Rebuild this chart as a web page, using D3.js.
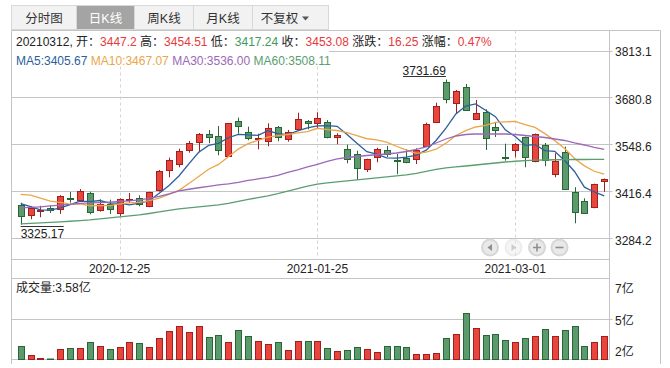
<!DOCTYPE html>
<html><head><meta charset="utf-8">
<script src="https://cdn.jsdelivr.net/npm/d3@7"></script>
<style>
html,body{margin:0;padding:0;background:#fff;}
svg{display:block;font-family:"Liberation Sans","Noto Sans CJK SC",sans-serif;font-size:12px;}
</style></head><body><svg id="c" width="670" height="368"></svg>
<script>
const dates = ["2020-12-11","2020-12-14","2020-12-15","2020-12-16","2020-12-17","2020-12-18","2020-12-21","2020-12-22","2020-12-23","2020-12-24",
"2020-12-25","2020-12-28","2020-12-29","2020-12-30","2020-12-31","2021-01-04","2021-01-05","2021-01-06","2021-01-07","2021-01-08",
"2021-01-11","2021-01-12","2021-01-13","2021-01-14","2021-01-15","2021-01-18","2021-01-19","2021-01-20","2021-01-21","2021-01-22",
"2021-01-25","2021-01-26","2021-01-27","2021-01-28","2021-01-29","2021-02-01","2021-02-02","2021-02-03","2021-02-04","2021-02-05",
"2021-02-08","2021-02-09","2021-02-10","2021-02-18","2021-02-19","2021-02-22","2021-02-23","2021-02-24","2021-02-25","2021-02-26",
"2021-03-01","2021-03-02","2021-03-03","2021-03-04","2021-03-05","2021-03-08","2021-03-09","2021-03-10","2021-03-11","2021-03-12"];
const openV = [3381.2,3351.5,3364,3372,3370,3400,3395.2,3413.1,3365.5,3383.2,3357.1,3396,3400.8,3376.7,3421.5,3477.6,3494.4,3533.6,3556,3578.4,
3572.8,3518.5,3614.8,3585.7,3565,3558.8,3597.4,3566,3593.2,3616.5,3609.2,3612,3570.8,3536.4,3522.4,3480.4,3514.8,3533.6,3507.5,3512,
3508.4,3545.6,3613.7,3724.9,3665.2,3710,3620.4,3640,3598,3515.5,3533.6,3570,3502.8,3547.6,3466.4,3528,3415.9,3390.7,3373.9,3447.2];
const highV = [3386.8,3377.6,3378,3378,3408,3416.8,3425,3417.6,3396.3,3395.2,3399,3414,3407.5,3417.6,3478.4,3512.9,3538,3559.6,3582,3590.4,
3601.6,3610,3624.9,3599.7,3580.1,3609.2,3601.6,3590.4,3638.9,3618.5,3640,3618,3581.2,3549.3,3532.4,3510,3540.8,3545.6,3523.2,3536.4,
3539.2,3610.9,3666.9,3731.69,3702.5,3719.3,3674.5,3648.4,3610.9,3552,3554,3572,3580.6,3554,3525.2,3543.6,3430,3399.1,3440,3454.51];
const lowV = [3325.17,3340.3,3346,3358,3355.2,3386.8,3392,3354.3,3361.6,3355.2,3349.6,3386,3376.7,3374,3418,3457.9,3485.9,3526.9,3528,3553.2,
3519.6,3517.6,3580.1,3561.6,3536.4,3544.8,3558.8,3557.7,3593,3592.4,3595.2,3567,3550.4,3497.2,3450.4,3472.8,3500,3514.8,3466.4,3497.2,
3495.2,3544,3612,3665.2,3637,3643.6,3618,3534.4,3570.8,3504.4,3514,3486,3500,3488.8,3458,3422.4,3329.1,3357,3371.1,3417.24];
const closeV = [3348.7,3372.8,3367,3367,3405,3396,3420.6,3359.9,3382.3,3368.3,3396.6,3397.3,3383.2,3415.4,3474.2,3505,3530.2,3552.6,3577.8,3571.6,
3533,3608.6,3600.2,3568.9,3566.6,3596.9,3570,3584,3622.6,3609.2,3625.4,3571.6,3575,3508.4,3484.8,3508.4,3536.4,3522.4,3506,3500,
3534.4,3607.2,3657.6,3678.1,3699.7,3645.6,3637.2,3567.2,3589.6,3514,3552,3514,3578.4,3505.6,3502.8,3424.3,3359.9,3358.8,3438.3,3453.08];
const volumeV = [2.96,2.35,2.18,2.12,2.72,2.78,2.78,3.21,2.96,2.72,2.90,3.15,3.09,2.90,3.40,3.83,4.14,3.77,4.14,3.46,
3.64,3.21,3.95,3.52,3.27,3.03,3.21,2.66,3.27,3.27,3.27,2.78,2.61,2.66,2.90,2.72,2.59,2.96,2.96,2.90,
2.47,2.47,2.53,3.40,3.66,5.00,4.07,3.64,3.70,3.33,3.15,3.40,3.52,4.01,3.58,3.95,4.14,2.96,3.21,3.58];
const ma5 = [3384,3375.4,3366.8,3365.8,3372.1,3381.6,3391.1,3389.7,3392.8,3385.4,3385.5,3380.9,3385.5,3392.2,3413.3,3435.0,3461.6,3495.5,3528.0,3547.4,
3553.0,3568.7,3578.2,3576.5,3575.5,3588.2,3580.5,3577.3,3588.0,3596.5,3602.2,3602.6,3600.8,3577.9,3553.0,3529.6,3522.6,3512.1,3511.6,3514.6,
3519.8,3534.0,3561.0,3595.5,3635.4,3657.6,3663.6,3645.6,3627.9,3590.7,3572.0,3547.4,3549.6,3532.8,3530.6,3505.0,3474.2,3430.3,3416.8,3405.67];
const ma10 = [3410.1,3408.2,3399.7,3391.4,3387.7,3382.9,3383.3,3378.2,3379.3,3378.8,3383.6,3386.0,3387.6,3392.5,3399.4,3410.3,3421.2,3440.5,3460.1,3480.4,
3494.0,3515.2,3536.9,3552.2,3561.5,3570.6,3574.6,3577.8,3582.2,3586.0,3595.2,3591.5,3589.0,3583.0,3574.8,3565.9,3562.6,3556.4,3544.8,3533.8,
3524.7,3528.3,3536.6,3553.5,3575.0,3588.7,3598.8,3603.3,3611.7,3613.1,3614.8,3605.5,3597.6,3580.3,3560.6,3538.5,3510.8,3489.9,3474.8,3467.07];
const ma30 = [3372,3373.4,3375.3,3377.6,3379.8,3381.8,3384.6,3386,3386.8,3388.2,3390.2,3391.6,3394.9,3398.6,3404.2,3411.2,3419.6,3424.4,3428.6,3432.2,
3436.4,3439.2,3443.4,3449,3453.2,3457.4,3463,3471.4,3478.4,3486.8,3494.4,3502.2,3509.2,3513.4,3516.2,3519,3521,3523.2,3526,3530.2,
3535.8,3542.8,3554,3565.2,3573.6,3577.8,3579.2,3579.2,3579.2,3579.2,3577.8,3575,3572.2,3569.4,3565.2,3561,3554,3548.4,3541.4,3536.0];
const ma60 = [3327.2,3328.6,3330,3331.4,3332.8,3334.7,3336.4,3338.4,3341.2,3344,3346.8,3349.6,3352.4,3356.5,3360.8,3365,3369.2,3372,3374.8,3377.6,
3380.4,3384.6,3390.2,3395.8,3401,3406,3412,3419,3426,3433,3438.5,3442,3444.8,3447.6,3450.4,3453.2,3456,3458.8,3461.6,3464.4,
3468.6,3474.2,3479.8,3484,3486.8,3489.6,3492.4,3495.2,3498,3500.8,3502.8,3504.4,3505.8,3506.4,3507,3507.5,3507.8,3507.8,3508,3508.11];
const priceTicks = [3813.1, 3680.8, 3548.6, 3416.4, 3284.2];
const volTickLabels = ["7亿", "5亿", "2亿"];
const dateTicks = ["2020-12-25", "2021-01-25", "2021-03-01"];
const tabs = ["分时图", "日K线", "周K线", "月K线", "不复权"];

const RED = "#e8463c", RED_S = "#a11f1f", GRN = "#5b9a6d", GRN_S = "#2a6535";
const TXT_RED = "#e8393a", TXT_GRN = "#3d9a5c";
const maColors = ["#2b5f9c", "#eaa64a", "#9c68b8", "#5a9e70"];

const svg = d3.select("#c");
const xL = 11.5, xR = 609.5, xO = 660.5, yTop = 30.5;
const pBot = 259.5, vTop = 278.5, vBot = 359.5;
const x = d3.scalePoint().domain(dates).range([20.7, 604.2]);
const y = d3.scaleLinear().domain([3284.2, 3813.1]).range([239.3, 50.5]);
const yv = d3.scaleLinear().domain([2.1, 7.1]).range([vBot, vTop]);
const px = v => Math.round(v) + 0.5;

// tabs
const tabEdges = [11.5, 76.5, 134.5, 193.5, 252.5, 328.5];
const tg = svg.append("g");
tabs.forEach((t, i) => {
  tg.append("rect").attr("x", tabEdges[i]).attr("y", 5.5).attr("width", tabEdges[i+1]-tabEdges[i]).attr("height", 24)
    .attr("fill", i === 1 ? "#a4a4a4" : "#f2f2f2").attr("stroke", "#d8d8d8");
  const cx = i === 4 ? 279.5 : (tabEdges[i] + tabEdges[i+1]) / 2;
  tg.append("text").attr("x", cx).attr("y", 22.5).attr("text-anchor", "middle")
    .attr("fill", i === 1 ? "#fff" : "#333").attr("font-size", 12.5).text(t);
});
tg.append("path").attr("d", "M302,16.5 L309,16.5 L305.5,20.5 Z").attr("fill", "#555");

// frame lines
const fg = svg.append("g").attr("stroke", "#c4c4c4").attr("fill", "none");
fg.append("line").attr("x1", xL).attr("x2", xO).attr("y1", yTop).attr("y2", yTop);
fg.append("line").attr("x1", xL).attr("x2", xL).attr("y1", yTop).attr("y2", 364);
fg.append("line").attr("x1", xR).attr("x2", xR).attr("y1", yTop).attr("y2", vBot);
fg.append("line").attr("x1", xO).attr("x2", xO).attr("y1", yTop).attr("y2", 364);
fg.append("line").attr("x1", xL).attr("x2", xR).attr("y1", pBot).attr("y2", pBot);
fg.append("line").attr("x1", xL).attr("x2", xR).attr("y1", vTop).attr("y2", vTop);
fg.append("line").attr("x1", xL).attr("x2", xR).attr("y1", vBot).attr("y2", vBot);
fg.append("line").attr("x1", xL).attr("x2", xR + 3).attr("y1", px((vTop + vBot) / 2 - 0.5)).attr("y2", px((vTop + vBot) / 2 - 0.5));
priceTicks.forEach(t => {
  const yy = Math.round(y(t)) - 0.5 + (t === priceTicks[0] ? 1 : 0);
  fg.append("line").attr("x1", xL).attr("x2", xR + 3).attr("y1", yy).attr("y2", yy);
});
// date dashed lines
dateTicks.forEach(d => {
  svg.append("line").attr("x1", px(x(d))).attr("x2", px(x(d))).attr("y1", yTop).attr("y2", pBot)
    .attr("stroke", "#d4d4d4").attr("stroke-dasharray", "3,3");
});
// white box behind info rows
svg.append("rect").attr("x", 12).attr("y", 31).attr("width", 317).attr("height", 35).attr("fill", "#fff");

// candles
const cg = svg.append("g");
dates.forEach((d, i) => {
  const up = closeV[i] >= openV[i];
  const cx = Math.round(x(d));
  const fill = up ? RED : GRN, st = up ? RED_S : GRN_S;
  cg.append("line").attr("x1", cx + 0.5).attr("x2", cx + 0.5).attr("y1", y(highV[i])).attr("y2", y(lowV[i])).attr("stroke", st);
  const t = px(y(Math.max(openV[i], closeV[i]))), b = px(y(Math.min(openV[i], closeV[i])));
  cg.append("rect").attr("x", cx - 2.5).attr("y", t).attr("width", 6).attr("height", Math.max(1, b - t))
    .attr("fill", fill).attr("stroke", st);
});
// MA lines
[ma5, ma10, ma30, ma60].forEach((arr, k) => {
  svg.append("path").datum(arr).attr("fill", "none").attr("stroke", maColors[k]).attr("stroke-width", 1.3)
    .attr("d", d3.line().x((v, i) => x(dates[i])).y(v => y(v)));
});
// volume
const vg = svg.append("g");
dates.forEach((d, i) => {
  const up = closeV[i] >= openV[i];
  const cx = Math.round(x(d));
  const t = Math.min(px(yv(volumeV[i])), vBot - 0.5);
  vg.append("rect").attr("x", cx - 2.5).attr("y", t).attr("width", 6).attr("height", Math.max(0.5, vBot - t))
    .attr("fill", up ? RED : GRN).attr("stroke", up ? RED_S : GRN_S);
});

// header rows
const h1 = svg.append("text").attr("x", 16).attr("y", 46).attr("fill", "#222");
const parts = [["20210312, 开：", "#222"], ["3447.2", TXT_RED], [" 高：", "#222"], ["3454.51", TXT_RED], [" 低：", "#222"], ["3417.24", TXT_GRN],
  [" 收：", "#222"], ["3453.08", TXT_RED], [" 涨跌：", "#222"], ["16.25", TXT_RED], [" 涨幅：", "#222"], ["0.47%", TXT_RED]];
parts.forEach(p => h1.append("tspan").attr("fill", p[1]).text(p[0]));
const h2 = svg.append("text").attr("x", 16).attr("y", 65);
const maLabels = ["MA5:", "MA10:", "MA30:", "MA60:"];
const maLast = [ma5, ma10, ma30, ma60].map(a => a[a.length - 1].toFixed(2));
maLabels.forEach((l, k) => h2.append("tspan").attr("fill", maColors[k]).text((k ? " " : "") + l + maLast[k]));

// price axis labels
priceTicks.forEach(t => {
  svg.append("text").attr("x", 615).attr("y", y(t) + 5.8).attr("fill", "#222").text(t.toFixed(1));
});
// volume axis labels
const vLabY = [vTop + 14, (vTop + vBot) / 2 + 6, vBot - 3.5];
volTickLabels.forEach((l, k) => svg.append("text").attr("x", 615).attr("y", vLabY[k]).attr("fill", "#222").text(l));
// date labels
dateTicks.forEach(d => svg.append("text").attr("x", x(d)).attr("y", 272.5).attr("text-anchor", "middle").attr("fill", "#222").text(d));
svg.append("text").attr("x", 16).attr("y", 292).attr("fill", "#222").text("成交量:" + volumeV[volumeV.length - 1].toFixed(2) + "亿");

// max / min markers
const iMax = d3.maxIndex(highV), iMin = d3.minIndex(lowV);
const hx = x(dates[iMax]);
svg.append("text").attr("x", hx).attr("y", 74.5).attr("text-anchor", "end").attr("fill", "#222").text(highV[iMax].toFixed(2));
svg.append("line").attr("x1", hx - 43).attr("x2", hx).attr("y1", 76.5).attr("y2", 76.5).attr("stroke", "#333");
const lx = x(dates[iMin]);
svg.append("text").attr("x", lx).attr("y", 238).attr("fill", "#222").text(lowV[iMin].toFixed(2));
svg.append("line").attr("x1", lx).attr("x2", lx + 43).attr("y1", 226.5).attr("y2", 226.5).attr("stroke", "#333");

// zoom buttons
const bx = [490, 513.5, 537, 559.5], by = 247.5;
bx.forEach((cx, k) => {
  const g = svg.append("g").attr("opacity", k === 1 ? 0.45 : 1);
  g.append("circle").attr("cx", cx).attr("cy", by).attr("r", 9).attr("fill", "#d6d6d6");
  g.append("circle").attr("cx", cx).attr("cy", by).attr("r", 7).attr("fill", "#e9e9e9");
  const c = "#8f8f8f";
  if (k === 0) g.append("path").attr("d", `M${cx+2},${by-3.5} L${cx+2},${by+3.5} L${cx-2.5},${by} Z`).attr("fill", c);
  if (k === 1) g.append("path").attr("d", `M${cx-2},${by-3.5} L${cx-2},${by+3.5} L${cx+2.5},${by} Z`).attr("fill", c);
  if (k >= 2) g.append("path").attr("d", `M${cx-4},${by} L${cx+4},${by}` + (k === 2 ? ` M${cx},${by-4} L${cx},${by+4}` : "")).attr("stroke", c).attr("stroke-width", 1.6);
});
</script></body></html>
